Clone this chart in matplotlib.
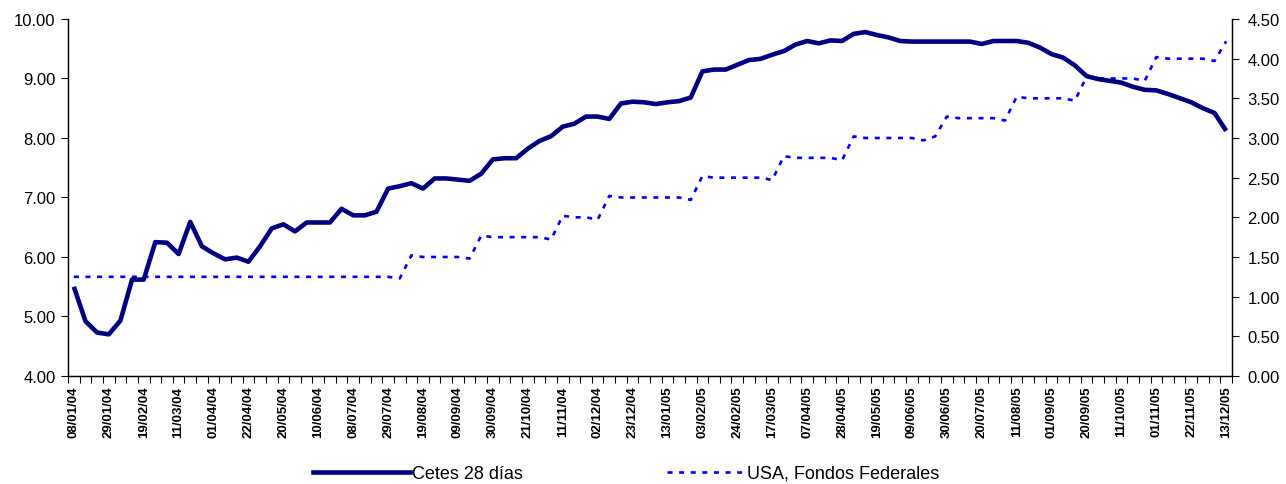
import matplotlib
matplotlib.use("Agg")
import matplotlib.pyplot as plt
from matplotlib.lines import Line2D

plt.rcParams['font.family'] = ['Liberation Sans', 'DejaVu Sans']

# etiquetas del eje (una cada 3 semanas)
tick_labels = ["08/01/04", "29/01/04", "19/02/04", "11/03/04", "01/04/04", "22/04/04",
               "20/05/04", "10/06/04", "08/07/04", "29/07/04", "19/08/04", "09/09/04",
               "30/09/04", "21/10/04", "11/11/04", "02/12/04", "23/12/04", "13/01/05",
               "03/02/05", "24/02/05", "17/03/05", "07/04/05", "28/04/05", "19/05/05",
               "09/06/05", "30/06/05", "20/07/05", "11/08/05", "01/09/05", "20/09/05",
               "11/10/05", "01/11/05", "22/11/05", "13/12/05"]

# Cetes 28 dias (semanal)
cetes = [5.50, 4.92, 4.73, 4.70, 4.93, 5.62, 5.62, 6.25, 6.24, 6.05,
         6.59, 6.18, 6.06, 5.96, 5.99, 5.92, 6.18, 6.48, 6.55, 6.43,
         6.58, 6.58, 6.58, 6.81, 6.70, 6.70, 6.76, 7.15, 7.19, 7.24,
         7.15, 7.32, 7.32, 7.30, 7.28, 7.40, 7.64, 7.66, 7.66, 7.82,
         7.95, 8.03, 8.19, 8.24, 8.36, 8.36, 8.32, 8.58, 8.61, 8.60,
         8.57, 8.60, 8.62, 8.68, 9.12, 9.15, 9.15, 9.23, 9.31, 9.33,
         9.40, 9.46, 9.57, 9.63, 9.59, 9.64, 9.63, 9.75, 9.78, 9.73,
         9.69, 9.63, 9.62, 9.62, 9.62, 9.62, 9.62, 9.62, 9.58, 9.63,
         9.63, 9.63, 9.60, 9.52, 9.41, 9.35, 9.22, 9.04, 8.99, 8.96,
         8.93, 8.86, 8.81, 8.80, 8.74, 8.67, 8.60, 8.50, 8.42, 8.12]

# USA, Fondos Federales (eje derecho)
fed = [1.25] * 28 + [1.23, 1.52] + [1.50] * 4 + [1.48, 1.77] + [1.75] * 5 + \
      [1.72, 2.02] + [2.00] * 2 + [1.97, 2.27] + [2.25] * 6 + [2.22, 2.52] + \
      [2.50] * 5 + [2.47, 2.77] + [2.75] * 4 + [2.72, 3.02] + [3.00] * 5 + \
      [2.97, 3.02, 3.27] + [3.25] * 4 + [3.22, 3.52] + [3.50] * 4 + [3.47, 3.77] + \
      [3.75] * 4 + [3.72, 4.02] + [4.00] * 4 + [3.97, 4.22]

n = len(cetes)
x = list(range(n))

fig = plt.figure(figsize=(12.86, 4.85), dpi=100)
ax = fig.add_axes([0.0529, 0.2227, 0.9051, 0.7361])
ax2 = ax.twinx()

ax.plot(x, cetes, color='#000080', lw=3.3, solid_joinstyle='round', solid_capstyle='butt', zorder=3)
ax2.plot(x, fed, color='#0000FF', lw=1.9, dashes=(1.9, 2.5), dash_capstyle='butt')
ax.set_zorder(ax2.get_zorder() + 1)
ax.patch.set_visible(False)

ax.set_xlim(-0.5, n - 0.5)
ax.set_ylim(4, 10)
ax2.set_ylim(0, 4.5)
ax.set_yticks([4, 5, 6, 7, 8, 9, 10])
ax.set_yticklabels([f"{v:.2f}" for v in range(4, 11)], fontsize=12)
ax2.set_yticks([i * 0.5 for i in range(10)])
ax2.set_yticklabels([f"{i * 0.5:.2f}" for i in range(10)], fontsize=12)

ax.set_xticks(range(0, n, 3))
ax.set_xticklabels(tick_labels, rotation=90, fontsize=9.5, fontweight='bold', va='top')
ax.tick_params(axis='x', which='major', length=0, pad=7)
ax.set_xticks([i - 0.5 for i in range(n + 1)], minor=True)
ax.tick_params(axis='x', which='minor', length=5, direction='out', width=0.8)
ax.tick_params(axis='y', length=5, width=0.8, pad=4)
ax2.tick_params(axis='y', length=5, width=0.8, pad=6)

for a in (ax, ax2):
    a.spines['top'].set_visible(False)
    for s in ('left', 'right', 'bottom'):
        a.spines[s].set_linewidth(0.9)

h1 = Line2D([], [], color='#000080', lw=3.3)
h2 = Line2D([], [], color='#0000FF', lw=1.9, dashes=(1.9, 2.5), dash_capstyle='butt')
fig.legend([h1], ["Cetes 28 días"], loc='center left', bbox_to_anchor=(0.236, 0.022),
           frameon=False, fontsize=13, handlelength=5.4, handletextpad=0.1, borderpad=0)
fig.legend([h2], ["USA, Fondos Federales"], loc='center left', bbox_to_anchor=(0.512, 0.022),
           frameon=False, fontsize=13, handlelength=4.3, handletextpad=0.1, borderpad=0)

fig.savefig("out.png", dpi=100)
